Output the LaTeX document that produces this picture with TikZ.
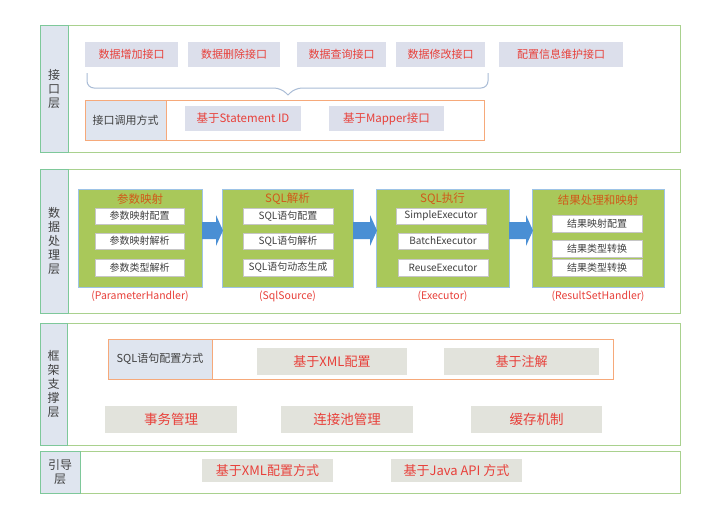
\documentclass[tikz,border=0pt]{standalone}
\usepackage{fontspec}
\setmainfont{Noto Sans CJK SC}
\usetikzlibrary{calc}
\definecolor{labfill}{HTML}{DFE5EF}
\definecolor{laygreen}{HTML}{A9D18E}
\definecolor{colgreen}{HTML}{7EC89A}
\definecolor{lav}{HTML}{DCDFEB}
\definecolor{redtxt}{HTML}{E8403A}
\definecolor{orng}{HTML}{F6A97A}
\definecolor{gbox}{HTML}{A9C85A}
\definecolor{gborder}{HTML}{9DC3E6}
\definecolor{ttl}{HTML}{D05A1A}
\definecolor{gfill}{HTML}{E2E3DC}
\definecolor{ablue}{HTML}{4A8FD4}
\definecolor{bracec}{HTML}{A9BCD6}
\definecolor{darktxt}{HTML}{404040}
\begin{document}
\begin{tikzpicture}[x=1pt,y=-1pt,
  wh/.style 2 args={minimum width=#1pt, minimum height=#2pt},
  bx/.style={anchor=north west, inner sep=0pt, outer sep=0pt},
  layer/.style={bx, draw=laygreen, line width=1pt, fill=white},
  labcol/.style={bx, draw=colgreen, line width=1pt, fill=labfill, align=center, text=darktxt, font=\fontsize{12}{14}\selectfont},
  lavbox/.style={bx, fill=lav, text=redtxt, font=\fontsize{11}{13}\selectfont},
  orbox/.style={bx, draw=orng, line width=0.8pt},
  cell/.style={bx, draw=orng, line width=0.8pt, fill=labfill, text=darktxt, font=\fontsize{11}{13}\selectfont},
  gbx/.style={bx, draw=gborder, line width=1pt, fill=gbox},
  ibx/.style={bx, draw=gray!45, line width=0.5pt, fill=white, text=darktxt, font=\fontsize{10}{12}\selectfont},
  gtitle/.style={text=ttl, font=\fontsize{11.5}{13}\selectfont, inner sep=0pt},
  glab/.style={text=redtxt, font=\fontsize{10.5}{12}\selectfont, inner sep=0pt},
  grbox/.style={bx, fill=gfill, text=redtxt, font=\fontsize{13.5}{15}\selectfont},
  blockarrow/.style={fill=ablue, draw=none}
]
\useasboundingbox (0,0) rectangle (720,523);

% ---------------- Layer 1: interface
\node[layer, wh={640}{127}] (L1) at (40,25) {};
\node[labcol, wh={28}{127}] (L1lab) at (40,25) {接\\口\\层};
\node[lavbox, wh={93}{25}] (t1) at (85,42) {数据增加接口};
\node[lavbox, wh={92}{25}] (t2) at (188,42) {数据删除接口};
\node[lavbox, wh={89}{25}] (t3) at (297,42) {数据查询接口};
\node[lavbox, wh={89}{25}] (t4) at (396,42) {数据修改接口};
\node[lavbox, wh={124}{25}] (t5) at (499,42) {配置信息维护接口};
\coordinate (brL) at (87,73);
\coordinate (brR) at (488,73);
\coordinate (brT) at (288,95);
\draw[bracec, line width=1pt, rounded corners=7pt]
  (brL) -- (brL |- 0,88) -- ($(brT)+(-7,-7)$) -- (brT);
\draw[bracec, line width=1pt, rounded corners=7pt]
  (brR) -- (brR |- 0,88) -- ($(brT)+(7,-7)$) -- (brT);
\node[orbox, wh={399}{40}] (call) at (85,100) {};
\node[cell, wh={81}{40}] (callc) at (85,100) {接口调用方式};
\node[lavbox, wh={116}{25}, font=\fontsize{11.5}{13}\selectfont] (b1) at (185,106) {基于Statement ID};
\node[lavbox, wh={115}{25}, font=\fontsize{11.5}{13}\selectfont] (b2) at (329,106) {基于Mapper接口};

% ---------------- Layer 2: data processing
\node[layer, wh={640}{144}] (L2) at (40,169) {};
\node[labcol, wh={28}{144}] (L2lab) at (40,169) {数\\据\\处\\理\\层};
\node[gbx, wh={124}{98}] (g1) at (78,189) {};
\node[gbx, wh={131}{98}] (g2) at (222,189) {};
\node[gbx, wh={133}{98}] (g3) at (376,189) {};
\node[gbx, wh={132}{98}] (g4) at (532,189) {};
\node[gtitle] (g1t) at (g1.north |- 0,199) {参数映射};
\node[gtitle] (g2t) at (g2.north |- 0,199) {SQL解析};
\node[gtitle] (g3t) at (g3.north |- 0,199) {SQL执行};
\node[gtitle] (g4t) at (g4.north |- 0,200) {结果处理和映射};

\node[ibx, wh={89}{16}] (i11) at (95,208) {参数映射配置};
\node[ibx, wh={89}{16}] (i12) at (95,233) {参数映射解析};
\node[ibx, wh={89}{17}] (i13) at (95,259) {参数类型解析};
\node[ibx, wh={90}{16}] (i21) at (243,208) {SQL语句配置};
\node[ibx, wh={90}{16}] (i22) at (243,233) {SQL语句解析};
\node[ibx, wh={90}{17}] (i23) at (243,259) {SQL语句动态生成};
\node[ibx, wh={90}{16}] (i31) at (396,208) {SimpleExecutor};
\node[ibx, wh={90}{16}] (i32) at (398,233) {BatchExecutor};
\node[ibx, wh={90}{17}] (i33) at (398,259) {ReuseExecutor};
\node[ibx, wh={90}{17}] (i41) at (552,215) {结果映射配置};
\node[ibx, wh={90}{17}] (i42) at (552,240) {结果类型转换};
\node[ibx, wh={90}{17}] (i43) at (552,259) {结果类型转换};

\node[glab] (l1) at (g1.south |- 0,296) {(ParameterHandler)};
\node[glab] (l2) at (g2.south |- 0,296) {(SqlSource)};
\node[glab] (l3) at (g3.south |- 0,296) {(Executor)};
\node[glab] (l4) at (g4.south |- 0,296) {(ResultSetHandler)};

\foreach \a/\b in {g1/g2, g2/g3, g3/g4}{
  \fill[blockarrow]
    ($(\a.east |- 0,222)$) -- ($(\b.west |- 0,222)+(-6,0)$) -- ($(\b.west |- 0,215)+(-6,0)$)
    -- ($(\b.west |- 0,230.5)+(1,0)$) -- ($(\b.west |- 0,246)+(-6,0)$)
    -- ($(\b.west |- 0,239)+(-6,0)$) -- ($(\a.east |- 0,239)$) -- cycle;
}

% ---------------- Layer 3: framework support
\node[layer, wh={640}{122}] (L3) at (40,323) {};
\node[labcol, wh={27}{122}] (L3lab) at (40,323) {框\\架\\支\\撑\\层};
\node[orbox, wh={505}{40}] (sqlcfg) at (108,339) {};
\node[cell, wh={104}{40}] (sqlcell) at (108,339) {SQL语句配置方式};
\node[grbox, wh={150}{27}, font=\fontsize{13}{15}\selectfont] (x1) at (257,348) {基于XML配置};
\node[grbox, wh={155}{27}, font=\fontsize{13}{15}\selectfont] (x2) at (444,348) {基于注解};
\node[grbox, wh={132}{27}] (f1) at (105,406) {事务管理};
\node[grbox, wh={132}{27}] (f2) at (281,406) {连接池管理};
\node[grbox, wh={131}{27}] (f3) at (471,406) {缓存机制};

% ---------------- Layer 4: bootstrap
\node[layer, wh={640}{42}] (L4) at (40,451) {};
\node[labcol, wh={40}{42}] (L4lab) at (40,451) {引导\\层};
\node[grbox, wh={131}{23}, font=\fontsize{13}{15}\selectfont] (s1) at (202,459) {基于XML配置方式};
\node[grbox, wh={131}{23}, font=\fontsize{13}{15}\selectfont] (s2) at (391,459) {基于Java API 方式};
\end{tikzpicture}
\end{document}
